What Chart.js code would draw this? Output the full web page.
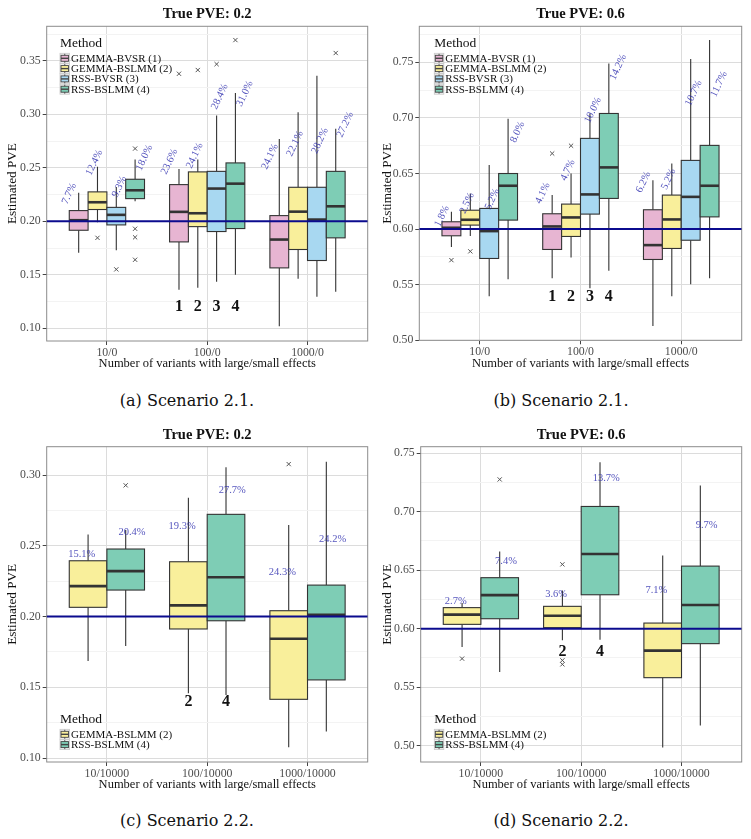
<!DOCTYPE html>
<html>
<head>
<meta charset="utf-8">
<script src="https://cdn.jsdelivr.net/npm/chart.js@4.4.1/dist/chart.umd.min.js"></script>
<style>
  body { margin: 0; background: #fff; width: 751px; height: 839px; position: relative; overflow: hidden; }
  canvas { position: absolute; }
  .cap { position: absolute; font-family: "DejaVu Serif", serif; font-size: 16px; color: #111;
         transform: translate(-50%, -50%); white-space: nowrap; }
</style>
</head>
<body>
<canvas id="cA" width="375" height="371" style="left:0;top:0"></canvas>
<canvas id="cB" width="376" height="371" style="left:375px;top:0"></canvas>
<canvas id="cC" width="375" height="372" style="left:0;top:420px"></canvas>
<canvas id="cD" width="376" height="372" style="left:375px;top:420px"></canvas>
<div class="cap" style="left:187px;top:400px">(a) Scenario 2.1.</div>
<div class="cap" style="left:561px;top:400px">(b) Scenario 2.1.</div>
<div class="cap" style="left:187px;top:820px">(c) Scenario 2.2.</div>
<div class="cap" style="left:561px;top:820px">(d) Scenario 2.2.</div>
<script>
// methods and colours
const methodNames = ['GEMMA-BVSR (1)', 'GEMMA-BSLMM (2)', 'RSS-BVSR (3)', 'RSS-BSLMM (4)'];
const methodNums = ['1', '2', '3', '4'];
const methodColors = ['#E7B5D2', '#F9EF9B', '#A8D8F1', '#7ECDB5'];

const cats21 = ['10/0', '100/0', '1000/0'];
const cats22 = ['10/10000', '100/10000', '1000/10000'];

const yTicks02a = [0.10, 0.15, 0.20, 0.25, 0.30, 0.35];
const yTicks06 = [0.50, 0.55, 0.60, 0.65, 0.70, 0.75];
const yTicks02c = [0.10, 0.15, 0.20, 0.25, 0.30];

// box stats per method, per category: [lower whisker, q1, median, q3, upper whisker]
// (a) scenario 2.1, PVE 0.2
const aBoxes = [
  [[0.1705, 0.1916, 0.2010, 0.2100, 0.2267], [0.1360, 0.1807, 0.2088, 0.2343, 0.2490], [0.1019, 0.1564, 0.1829, 0.2053, 0.2770]],
  [[0.1990, 0.2110, 0.2178, 0.2275, 0.2510], [0.1377, 0.1950, 0.2075, 0.2462, 0.2577], [0.1462, 0.1736, 0.2090, 0.2318, 0.3020]],
  [[0.1730, 0.1966, 0.2060, 0.2130, 0.2320], [0.1434, 0.1904, 0.2306, 0.2467, 0.2990], [0.1293, 0.1633, 0.2016, 0.2318, 0.3362]],
  [[0.2187, 0.2212, 0.2290, 0.2393, 0.2577], [0.1500, 0.1932, 0.2352, 0.2546, 0.3200], [0.1340, 0.1845, 0.2140, 0.2467, 0.2866]]
];
// [category, method, value]
const aOutliers = [[0, 1, 0.1845], [0, 2, 0.155], [0, 3, 0.268], [0, 3, 0.193], [0, 3, 0.185], [0, 3, 0.164],
  [1, 0, 0.338], [1, 1, 0.3415], [1, 2, 0.347], [1, 3, 0.3695], [2, 3, 0.3574]];
const aPct = [['7.7%', '23.6%', '24.1%'], ['12.4%', '24.1%', '22.1%'], ['9.3%', '28.4%', '28.2%'], ['18.0%', '31.0%', '27.2%']];
const aPctY = [[0.2259, 0.2558, 0.2605], [0.2549, 0.2614, 0.2726], [0.2324, 0.3166, 0.2754], [0.2595, 0.3194, 0.2904]];

// (b) scenario 2.1, PVE 0.6
const bBoxes = [
  [[0.5840, 0.5940, 0.6012, 0.6066, 0.6156], [0.5557, 0.5817, 0.6024, 0.6138, 0.6306], [0.5128, 0.5727, 0.5856, 0.6174, 0.6440]],
  [[0.5937, 0.6036, 0.6084, 0.6170, 0.6320], [0.5745, 0.5934, 0.6105, 0.6225, 0.6500], [0.5397, 0.5826, 0.6087, 0.6306, 0.6590]],
  [[0.5397, 0.5736, 0.5982, 0.6186, 0.6576], [0.5467, 0.6135, 0.6312, 0.6816, 0.7040], [0.5503, 0.5900, 0.6290, 0.6618, 0.7529]],
  [[0.5548, 0.6081, 0.6390, 0.6500, 0.6992], [0.5625, 0.6276, 0.6555, 0.7040, 0.7490], [0.5557, 0.6110, 0.6390, 0.6753, 0.7700]]
];
const bOutliers = [[0, 0, 0.5721], [0, 1, 0.580], [1, 0, 0.668], [1, 1, 0.675]];
const bPct = [['1.8%', '4.1%', '6.2%'], ['2.5%', '4.7%', '5.2%'], ['5.2%', '10.0%', '10.7%'], ['8.0%', '14.2%', '11.7%']];
const bPctY = [[0.6117, 0.6324, 0.6423], [0.6234, 0.6531, 0.6450], [0.6270, 0.7070, 0.7223], [0.6872, 0.7457, 0.7304]];

// (c) scenario 2.2, PVE 0.2 (GEMMA-BSLMM, RSS-BSLMM)
const cBoxes = [
  [[0.1686, 0.2065, 0.2215, 0.2394, 0.2580], [0.1458, 0.1912, 0.2079, 0.2387, 0.2839], [0.1076, 0.1415, 0.1843, 0.2041, 0.2646]],
  [[0.1792, 0.2187, 0.2321, 0.2477, 0.2611], [0.1446, 0.1970, 0.2277, 0.2722, 0.3054], [0.1187, 0.1552, 0.2013, 0.2222, 0.3093]]
];
const cOutliers = [[0, 1, 0.2927], [2, 0, 0.3077]];
const cPct = [['15.1%', '19.3%', '24.3%'], ['20.4%', '27.7%', '24.2%']];
const cPctY = [[0.2441, 0.2639, 0.2313], [0.2593, 0.2893, 0.2547]];

// (d) scenario 2.2, PVE 0.6
const dBoxes = [
  [[0.5843, 0.6037, 0.6120, 0.6180, 0.6219], [0.5900, 0.6009, 0.6111, 0.6191, 0.6327], [0.4983, 0.5581, 0.5812, 0.6048, 0.6626]],
  [[0.5629, 0.6085, 0.6287, 0.6436, 0.6660], [0.5906, 0.6290, 0.6638, 0.7045, 0.7424], [0.5173, 0.5872, 0.6202, 0.6535, 0.7225]]
];
const dOutliers = [[0, 0, 0.5744], [0, 1, 0.7276], [1, 0, 0.5729], [1, 0, 0.5695], [1, 0, 0.655]];
const dPct = [['2.7%', '3.6%', '7.1%'], ['7.4%', '13.7%', '9.7%']];
const dPctY = [[0.6233, 0.6296, 0.6327], [0.6578, 0.7289, 0.6883]];

const serif = '"Liberation Serif", serif';
const isMinor = v => Math.abs(v * 20 - Math.round(v * 20)) > 1e-6;

function boxPlugin(p) {
  const n = p.methods.length;
  const boxX = (c, m) => c + 1 + (m - (n - 1) / 2) * (0.75 / n);
  const labX = (c, m) => c + 1 + (m - (n - 1) / 2) * (1.0 / n);
  return {
    id: 'box_' + p.id,
    beforeDatasetsDraw(chart) {
      const { ctx, chartArea: a, scales: { x, y } } = chart;
      const half = (x.getPixelForValue(1 + 0.75 / n) - x.getPixelForValue(1)) / 2;
      ctx.save();
      ctx.strokeStyle = '#8c8c8c';
      ctx.lineWidth = 1;
      ctx.strokeRect(a.left, a.top, a.right - a.left, a.bottom - a.top);
      p.boxes.forEach((rows, m) => rows.forEach((st, c) => {
        const cx = x.getPixelForValue(boxX(c, m));
        const [lo, q1, med, q3, hi] = st.map(v => y.getPixelForValue(v));
        ctx.strokeStyle = '#333';
        ctx.lineWidth = 1.1;
        ctx.beginPath();
        ctx.moveTo(cx, lo); ctx.lineTo(cx, q1);
        ctx.moveTo(cx, q3); ctx.lineTo(cx, hi);
        ctx.stroke();
        ctx.fillStyle = methodColors[p.methods[m]];
        ctx.fillRect(cx - half, q3, half * 2, q1 - q3);
        ctx.strokeRect(cx - half, q3, half * 2, q1 - q3);
        ctx.lineWidth = 2.6;
        ctx.beginPath();
        ctx.moveTo(cx - half, med); ctx.lineTo(cx + half, med);
        ctx.stroke();
      }));
      ctx.restore();
    },
    afterDatasetsDraw(chart) {
      const { ctx, chartArea: a, scales: { x, y } } = chart;
      ctx.save();
      // title
      ctx.fillStyle = '#111';
      ctx.font = 'bold 14.5px ' + serif;
      ctx.textAlign = 'center';
      ctx.textBaseline = 'middle';
      ctx.fillText(p.title, (a.left + a.right) / 2, p.titleY);
      // percentage labels
      ctx.font = '10.5px ' + serif;
      ctx.fillStyle = 'rgba(45,45,175,0.82)';
      p.pct.forEach((row, m) => row.forEach((t, c) => {
        const px = x.getPixelForValue(labX(c, m));
        const py = y.getPixelForValue(p.pctY[m][c]);
        ctx.save();
        ctx.translate(px, py);
        if (p.rot) ctx.rotate(-65 * Math.PI / 180);
        ctx.fillText(t, 0, 0);
        ctx.restore();
      }));
      // method numbers under the middle group
      ctx.fillStyle = '#111';
      ctx.font = 'bold 16px ' + serif;
      p.methods.forEach((mi, m) => {
        ctx.fillText(methodNums[mi], x.getPixelForValue(boxX(1, m)), y.getPixelForValue(p.numY));
      });
      // legend
      const lx = a.left + p.legLeft;
      let ly = a.top + p.legTop;
      ctx.textAlign = 'left';
      ctx.font = '13.5px ' + serif;
      ctx.fillText('Method', lx, ly);
      ctx.font = '11px ' + serif;
      p.methods.forEach((mi, k) => {
        const cy = ly + 15.3 + k * 10.3;
        ctx.fillStyle = '#f0f0f0';
        ctx.fillRect(lx, cy - 5, 9.5, 10);
        ctx.strokeStyle = '#c8c8c8';
        ctx.lineWidth = 0.8;
        ctx.strokeRect(lx, cy - 5, 9.5, 10);
        ctx.strokeStyle = '#444';
        ctx.lineWidth = 0.9;
        ctx.beginPath();
        ctx.moveTo(lx + 4.75, cy - 4.5); ctx.lineTo(lx + 4.75, cy + 4.5);
        ctx.stroke();
        ctx.fillStyle = methodColors[mi];
        ctx.fillRect(lx + 1, cy - 3, 7.5, 6);
        ctx.strokeRect(lx + 1, cy - 3, 7.5, 6);
        ctx.lineWidth = 1.4;
        ctx.beginPath();
        ctx.moveTo(lx + 1, cy); ctx.lineTo(lx + 8.5, cy);
        ctx.stroke();
        ctx.fillStyle = '#111';
        ctx.fillText(methodNames[mi], lx + 11, cy + 0.5);
      });
      ctx.restore();
    }
  };
}

function buildPanel(p) {
  const n = p.methods.length;
  const boxX = (c, m) => c + 1 + (m - (n - 1) / 2) * (0.75 / n);
  const outPts = p.outliers.map(([c, m, v]) => ({ x: boxX(c, m), y: v }));
  const allTicks = [];
  p.yTicks.forEach(v => {
    allTicks.push(v);
    [v - 0.025, v + 0.025].forEach(w => {
      if (w >= p.yMin && w <= p.yMax && !allTicks.some(u => Math.abs(u - w) < 1e-6)) allTicks.push(w);
    });
  });
  allTicks.sort((u, w) => u - w);
  const tickFont = { family: serif, size: 11.8 };
  new Chart(document.getElementById(p.id), {
    type: 'scatter',
    data: {
      datasets: [
        { data: outPts, pointStyle: 'crossRot', radius: 3, borderColor: '#555', borderWidth: 1,
          backgroundColor: 'rgba(0,0,0,0)' },
        { data: [{ x: 0.4, y: p.truth }, { x: 3.6, y: p.truth }], showLine: true, borderColor: '#0b0b8e',
          borderWidth: 2, pointRadius: 0 }
      ]
    },
    options: {
      responsive: false,
      animation: false,
      events: [],
      layout: { padding: { top: p.padTop, right: p.padRight, left: 0, bottom: 0 } },
      plugins: { legend: { display: false }, tooltip: { enabled: false } },
      scales: {
        x: {
          type: 'linear', min: 0.4, max: 3.6,
          afterBuildTicks: s => { s.ticks = [1, 2, 3].map(v => ({ value: v })); },
          afterFit: s => { s.height = p.xH; },
          ticks: { callback: v => p.cats[v - 1], font: tickFont, color: '#4d4d4d', padding: 1, maxRotation: 0, autoSkip: false },
          grid: { color: '#dcdcdc', tickColor: '#444', tickLength: 4 },
          border: { display: false },
          title: { display: true, text: 'Number of variants with large/small effects', font: { family: serif, size: 12.5 }, color: '#111', padding: 0 }
        },
        y: {
          type: 'linear', min: p.yMin, max: p.yMax,
          afterBuildTicks: s => { s.ticks = allTicks.map(v => ({ value: v })); },
          afterFit: s => { s.width = p.yW; },
          ticks: { callback: v => isMinor(v) ? '' : v.toFixed(2), font: tickFont, color: '#4d4d4d', padding: 2, autoSkip: false },
          grid: {
            color: c => isMinor(c.tick.value) ? '#f3f3f3' : '#dcdcdc',
            tickColor: c => isMinor(c.tick.value) ? 'rgba(0,0,0,0)' : '#444',
            tickLength: 4
          },
          border: { display: false },
          title: { display: true, text: 'Estimated PVE', font: { family: serif, size: 13.2 }, color: '#111', padding: { top: 5, bottom: 0 } }
        }
      }
    },
    plugins: [boxPlugin(p)]
  });
}

buildPanel({ id: 'cA', title: 'True PVE: 0.2', titleY: 14, truth: 0.2, yMin: 0.088, yMax: 0.3824, yTicks: yTicks02a,
  cats: cats21, methods: [0, 1, 2, 3], boxes: aBoxes, outliers: aOutliers, pct: aPct, pctY: aPctY, numY: 0.120,
  rot: true, legLeft: 13.3, legTop: 16.7, yW: 46.7, padRight: 7.3, padTop: 26.3, xH: 30 });
buildPanel({ id: 'cB', title: 'True PVE: 0.6', titleY: 14, truth: 0.6, yMin: 0.50, yMax: 0.7824, yTicks: yTicks06,
  cats: cats21, methods: [0, 1, 2, 3], boxes: bBoxes, outliers: bOutliers, pct: bPct, pctY: bPctY, numY: 0.539,
  rot: true, legLeft: 15, legTop: 16.7, yW: 44.3, padRight: 9.3, padTop: 26.3, xH: 30.7 });
buildPanel({ id: 'cC', title: 'True PVE: 0.2', titleY: 15, truth: 0.2, yMin: 0.0972, yMax: 0.32, yTicks: yTicks02c,
  cats: cats22, methods: [1, 3], boxes: cBoxes, outliers: cOutliers, pct: cPct, pctY: cPctY, numY: 0.1398,
  rot: false, legLeft: 13.3, legTop: 272.3, yW: 46.7, padRight: 7.3, padTop: 26.7, xH: 30 });
buildPanel({ id: 'cD', title: 'True PVE: 0.6', titleY: 15, truth: 0.6, yMin: 0.486, yMax: 0.7556, yTicks: yTicks06,
  cats: cats22, methods: [1, 3], boxes: dBoxes, outliers: dOutliers, pct: dPct, pctY: dPctY, numY: 0.58,
  rot: false, legLeft: 13.6, legTop: 272.3, yW: 45.7, padRight: 9.3, padTop: 26.7, xH: 30 });
</script>
</body>
</html>
